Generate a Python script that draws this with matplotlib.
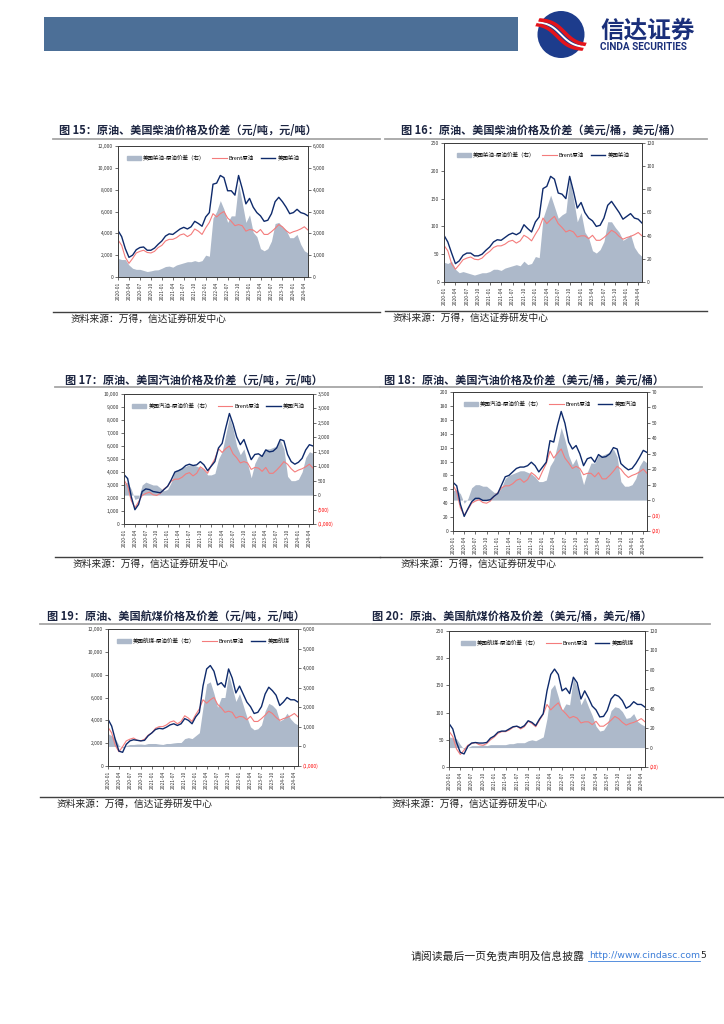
import matplotlib
matplotlib.use("Agg")
import matplotlib.pyplot as plt
import matplotlib.patches as mpatches
from matplotlib.lines import Line2D
import numpy as np
import pandas as pd

plt.rcParams["font.family"] = ["Noto Sans CJK SC", "DejaVu Sans"]

# ── 数据（按月读取，2020-01 ~ 2024-05）──────────────────────────────────────────
months = pd.date_range("2020-01-01", "2024-05-01", freq="MS")
tick_labels = [d.strftime("%Y-%m") for d in months[::3]]

# Brent 原油
brent_cny = [3400, 2900, 1800, 1250, 1700, 2200, 2350, 2450, 2250, 2200, 2350, 2700,
             2900, 3300, 3450, 3450, 3600, 3850, 3950, 3700, 3900, 4400, 4200, 3900,
             4500, 5000, 5800, 5500, 5800, 6000, 5400, 5100, 4700, 4800, 4700, 4200,
             4350, 4300, 4050, 4350, 3900, 3900, 4150, 4450, 4800, 4600, 4250, 4000,
             4150, 4250, 4400, 4600, 4300]
brent_usd = [66, 56, 33, 23, 31, 40, 43, 45, 41, 40, 43, 50,
             55, 62, 65, 65, 68, 73, 75, 70, 74, 84, 80, 74,
             86, 97, 115, 105, 112, 118, 105, 98, 90, 93, 90, 81,
             83, 83, 78, 84, 75, 75, 80, 86, 93, 89, 82, 77,
             80, 82, 85, 89, 83]

# 美国柴油
diesel_cny = [4250, 3700, 2600, 1800, 2000, 2500, 2700, 2750, 2450, 2450, 2650, 3000,
              3300, 3750, 3950, 3900, 4150, 4400, 4550, 4400, 4600, 5100, 4900, 4650,
              5500, 5900, 8500, 8600, 9300, 9100, 7900, 7900, 7500, 9300, 8100, 6700,
              7200, 6400, 5900, 5600, 5100, 5200, 5800, 6900, 7300, 6900, 6400, 5800,
              5900, 6200, 5900, 5800, 5600]
diesel_spread_cny = [850, 800, 800, 550, 400, 350, 350, 300, 250, 280, 320, 330,
                     400, 480, 500, 450, 550, 600, 650, 700, 700, 750, 700, 750,
                     1000, 950, 2700, 3000, 3500, 3100, 2500, 2800, 2800, 4300, 3400, 2500,
                     2850, 2050, 1850, 1300, 1200, 1300, 1650, 2450, 2500, 2300, 2150, 1800,
                     1800, 1950, 1500, 1200, 1100]
diesel_usd = [84, 72, 52, 33, 38, 48, 52, 52, 47, 47, 50, 57,
              63, 72, 76, 75, 80, 85, 88, 85, 89, 103, 96, 90,
              108, 117, 168, 172, 190, 185, 160, 158, 150, 190, 163, 133,
              143, 125, 115, 110, 100, 102, 115, 138, 145, 135, 125, 113,
              118, 123, 115, 113, 106]
diesel_spread_usd = [17, 16, 18, 11, 8, 9, 8, 7, 6, 7, 8, 8,
                     9, 11, 11, 10, 12, 13, 14, 15, 14, 18, 15, 16,
                     22, 21, 55, 65, 75, 65, 55, 58, 60, 90, 72, 52,
                     60, 43, 38, 27, 25, 28, 35, 52, 52, 47, 43, 36,
                     38, 41, 30, 25, 22]

# 美国汽油
gas_cny = [3800, 3500, 2100, 1100, 1500, 2500, 2700, 2650, 2500, 2450, 2400, 2650,
           2900, 3400, 4000, 4100, 4250, 4500, 4600, 4500, 4550, 4800, 4550, 4100,
           4450, 4800, 5850, 6200, 7400, 8500, 7700, 6700, 6100, 6500, 5700, 4950,
           5350, 5400, 5200, 5700, 5550, 5600, 5850, 6500, 6400, 5350, 4800, 4600,
           4750, 5050, 5700, 6100, 6000]
gas_spread_cny = [400, 450, 200, -150, -100, 350, 450, 400, 350, 350, 250, 150,
                  200, 450, 850, 900, 950, 1000, 1050, 1050, 1000, 950, 900, 700,
                  700, 750, 1250, 1500, 2100, 2700, 2300, 1700, 1400, 1600, 1100, 600,
                  1100, 1350, 1400, 1600, 1600, 1650, 1700, 1900, 1600, 650, 500, 500,
                  550, 800, 1300, 1500, 1450]
gas_usd = [70, 65, 38, 21, 32, 42, 47, 47, 44, 44, 45, 50,
           54, 66, 78, 80, 85, 90, 92, 92, 94, 99, 94, 85,
           92, 99, 130, 128, 152, 172, 155, 128, 118, 123, 111, 94,
           104, 106, 99, 110, 106, 107, 111, 120, 118, 97, 92, 88,
           90, 97, 106, 116, 113]
gas_spread_usd = [6, 7, 4, -2, 1, 8, 10, 10, 9, 9, 7, 5,
                  5, 8, 14, 16, 17, 18, 19, 19, 18, 17, 15, 12,
                  12, 13, 22, 26, 36, 47, 39, 29, 23, 27, 19, 10,
                  18, 24, 24, 29, 29, 30, 31, 33, 28, 12, 9, 9,
                  10, 14, 22, 26, 24]

# 美国航煤
jet_cny = [4100, 3500, 2300, 1300, 1200, 1900, 2200, 2300, 2250, 2200, 2250, 2650,
           2900, 3200, 3300, 3250, 3400, 3600, 3700, 3550, 3700, 4150, 4000, 3700,
           4300, 4700, 7000, 8500, 8800, 8300, 7100, 7300, 6900, 8500, 7700, 6400,
           7000, 6300, 5600, 5200, 4600, 4700, 5200, 6300, 6900, 6600, 6200, 5300,
           5600, 6000, 5800, 5800, 5600]
jet_spread_cny = [650, 550, 400, 50, -80, 50, 100, 100, 120, 120, 100, 150,
                  150, 150, 120, 100, 150, 150, 180, 200, 200, 400, 450, 400,
                  550, 700, 2000, 3200, 3300, 2700, 2000, 2500, 2500, 3700, 3000, 2300,
                  2700, 2100, 1500, 1000, 850, 900, 1100, 1800, 2200, 2100, 1900, 1300,
                  1400, 1700, 1400, 1200, 1100]
jet_usd = [80, 70, 45, 27, 24, 38, 44, 45, 44, 44, 45, 53,
           57, 64, 66, 66, 70, 74, 75, 72, 76, 85, 82, 76,
           88, 98, 140, 170, 180, 170, 140, 145, 135, 165, 155, 125,
           140, 127, 112, 105, 92, 93, 104, 125, 133, 130, 122, 108,
           112, 120, 115, 115, 110]
jet_spread_usd = [11, 10, 9, 3, -2, 0, 2, 2, 2, 3, 2, 3,
                  3, 3, 3, 3, 4, 4, 5, 5, 5, 7, 8, 7,
                  9, 11, 30, 60, 65, 52, 38, 45, 44, 72, 62, 44,
                  52, 42, 33, 22, 17, 18, 24, 38, 42, 41, 37, 30,
                  31, 35, 27, 24, 22]

# ── 样式 ───────────────────────────────────────────────────────────────────────
W, H = 724, 1024
NAVY = "#0E2A6B"
PINK = "#F47C7C"
AREA = "#ADB9CA"
TITLE_C = "#1C2541"

fig = plt.figure(figsize=(W / 100, H / 100), dpi=100)
bg = fig.add_axes([0, 0, 1, 1])
bg.set_xlim(0, W)
bg.set_ylim(H, 0)
bg.axis("off")


def px_rect(l, t, r, b):
    return [l / W, 1 - b / H, (r - l) / W, (b - t) / H]


def num(v):
    s = f"{abs(v):,.0f}"
    return f"({s})" if v < 0 else s


def panel(rect, product, spread, brent, names, lylim, lystep, rylim, rystep):
    ax = fig.add_axes(px_rect(*rect))
    axr = ax.twinx()
    x = np.arange(len(months))
    axr.fill_between(x, 0, spread, color=AREA, lw=0)
    ax.plot(x, brent, color=PINK, lw=0.8)
    ax.plot(x, product, color=NAVY, lw=1.0)
    ax.set_zorder(axr.get_zorder() + 1)
    ax.patch.set_visible(False)

    ax.set_xlim(0, len(months) - 1)
    ax.set_xticks(x[::3])
    ax.set_xticklabels(tick_labels, rotation=90, fontsize=3.5, color="#333333")

    lt = np.arange(lylim[0], lylim[1] + 1, lystep)
    ax.set_ylim(*lylim)
    ax.set_yticks(lt)
    ax.set_yticklabels([num(v) for v in lt], fontsize=3.5, color="#333333")
    rt = np.arange(rylim[0], rylim[1] + 1, rystep)
    axr.set_ylim(*rylim)
    axr.set_yticks(rt)
    axr.set_yticklabels([num(v) for v in rt], fontsize=3.5)

    for a in (ax, axr):
        a.tick_params(length=2, width=0.5, pad=1.5, colors="#333333")
        for s in a.spines.values():
            s.set_color("#404040")
            s.set_linewidth(0.7)
    for lab, v in zip(axr.get_yticklabels(), rt):
        lab.set_color("#FF0000" if v < 0 else "#333333")

    handles = [mpatches.Patch(color=AREA, label=names[0]),
               Line2D([], [], color=PINK, lw=0.8, label="Brent原油"),
               Line2D([], [], color=NAVY, lw=1.0, label=names[1])]
    ax.legend(handles=handles, loc="upper center", bbox_to_anchor=(0.5, 0.97),
              ncol=3, fontsize=4, frameon=False, handlelength=2.6,
              handleheight=0.8, columnspacing=1.2, handletextpad=0.4)


def frame(title, tx, ty, line_y, lx0, lx1, src_x, src_line_y, sx0, sx1):
    bg.text(tx, ty, title, fontsize=8, fontweight="bold", color=TITLE_C,
            ha="left", va="center")
    bg.plot([lx0, lx1], [line_y, line_y], color="#A6A6A6", lw=1.3)
    bg.plot([sx0, sx1], [src_line_y, src_line_y], color="#404040", lw=1.0)
    bg.text(src_x, src_line_y + 7, "资料来源：万得，信达证券研发中心", fontsize=7,
            color="#222222", ha="left", va="center")


# ── 页眉 ───────────────────────────────────────────────────────────────────────
bg.add_patch(mpatches.Rectangle((44, 17), 474, 34, color="#4C6F97", lw=0))
logo = mpatches.Circle((561, 34.5), 23.5, color="#1D3C8C", lw=0)
bg.add_patch(logo)
clip = mpatches.Circle((561, 34.5), 27, transform=bg.transData)
tt = np.linspace(-1, 1, 80)
for off, col, lw in [(-3.5, "#E3141C", 2.6), (0, "white", 1.4), (3.5, "#E3141C", 2.6)]:
    ln, = bg.plot(561 + tt * 26 + off, 34.5 + np.tanh(tt * 2.0) * 13 - off * 0.6,
                  color=col, lw=lw, solid_capstyle="butt")
    ln.set_clip_path(clip)
bg.text(600, 31, "信达证券", fontsize=17, fontweight="bold", color="#1A2F7A",
        ha="left", va="center")
bg.text(600, 47, "CINDA SECURITIES", fontsize=7.2, fontweight="bold", color="#1A2F7A",
        family="Roboto", ha="left", va="center")

# ── 图 15 / 16 ────────────────────────────────────────────────────────────────
frame("图 15：原油、美国柴油价格及价差（元/吨，元/吨）", 59, 131, 139, 53, 380,
      71, 312, 53, 380)
frame("图 16：原油、美国柴油价格及价差（美元/桶，美元/桶）", 401, 131, 139, 385, 707,
      393, 311, 385, 707)
panel((118, 146, 308, 277), diesel_cny, diesel_spread_cny, brent_cny,
      ("美国柴油-原油价差（右）", "美国柴油"), (0, 12000), 2000, (0, 6000), 1000)
panel((444, 143, 642, 282), diesel_usd, diesel_spread_usd, brent_usd,
      ("美国柴油-原油价差（右）", "美国柴油"), (0, 250), 50, (0, 120), 20)

# ── 图 17 / 18 ────────────────────────────────────────────────────────────────
frame("图 17：原油、美国汽油价格及价差（元/吨，元/吨）", 65, 380, 387, 55, 380,
      73, 557, 55, 380)
frame("图 18：原油、美国汽油价格及价差（美元/桶，美元/桶）", 384, 380, 387, 380, 702,
      401, 557, 380, 702)
panel((124, 394, 313, 524), gas_cny, gas_spread_cny, brent_cny,
      ("美国汽油-原油价差（右）", "美国汽油"), (0, 10000), 1000, (-1000, 3500), 500)
panel((453, 392, 647, 531), gas_usd, gas_spread_usd, brent_usd,
      ("美国汽油-原油价差（右）", "美国汽油"), (0, 200), 20, (-20, 70), 10)

# ── 图 19 / 20 ────────────────────────────────────────────────────────────────
frame("图 19：原油、美国航煤价格及价差（元/吨，元/吨）", 47, 617, 624, 40, 370,
      57, 797, 40, 380)
frame("图 20：原油、美国航煤价格及价差（美元/桶，美元/桶）", 372, 617, 624, 372, 710,
      392, 797, 380, 724)
panel((108, 629, 298, 766), jet_cny, jet_spread_cny, brent_cny,
      ("美国航煤-原油价差（右）", "美国航煤"), (0, 12000), 2000, (-1000, 6000), 1000)
panel((449, 631, 645, 767), jet_usd, jet_spread_usd, brent_usd,
      ("美国航煤-原油价差（右）", "美国航煤"), (0, 250), 50, (-20, 120), 20)

# ── 页脚 ───────────────────────────────────────────────────────────────────────
bg.text(585, 956, "请阅读最后一页免责声明及信息披露", fontsize=7.8, color="#222222",
        ha="right", va="center")
bg.text(700, 956, "http://www.cindasc.com", fontsize=6.7, color="#3B7DD8",
        family="DejaVu Sans", ha="right", va="center")
bg.plot([588, 700], [961, 961], color="#3B7DD8", lw=0.6)
bg.text(700.5, 956, "5", fontsize=6.7, color="#222222", family="DejaVu Sans",
        ha="left", va="center")

fig.savefig("out.png", dpi=100)
